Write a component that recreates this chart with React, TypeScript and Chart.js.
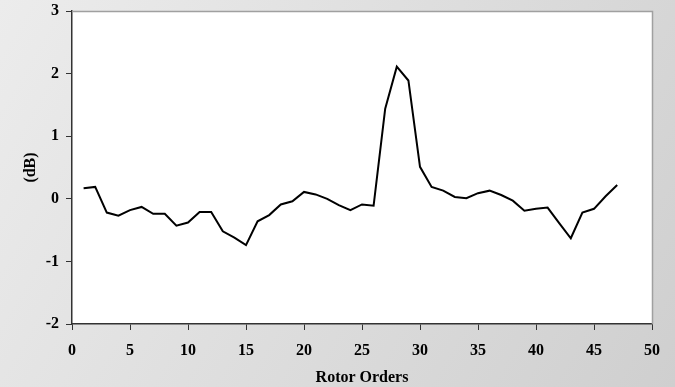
import React, { useEffect, useRef } from "react";
import { Chart, registerables } from "chart.js";

Chart.register(...registerables);

const orders = [1, 2, 3, 4, 5, 6, 7, 8, 9, 10, 11, 12, 13, 14, 15, 16, 17, 18, 19, 20, 21, 22, 23, 24, 25, 26, 27, 28, 29, 30, 31, 32, 33, 34, 35, 36, 37, 38, 39, 40, 41, 42, 43, 44, 45, 46, 47];
const dbValues = [0.17, 0.19, -0.22, -0.27, -0.18, -0.13, -0.24, -0.24, -0.43, -0.38, -0.21, -0.21, -0.52, -0.62, -0.74, -0.36, -0.26, -0.09, -0.04, 0.11, 0.07, 0.0, -0.1, -0.18, -0.09, -0.11, 1.44, 2.11, 1.89, 0.51, 0.19, 0.13, 0.03, 0.01, 0.09, 0.13, 0.06, -0.03, -0.19, -0.16, -0.14, -0.39, -0.63, -0.22, -0.16, 0.04, 0.22];

const xTitle = "Rotor Orders";
const yTitle = "(dB)";
const xMin = 0, xMax = 50, xStep = 5;
const yMin = -2, yMax = 3, yStep = 1;

const FONT = "'Liberation Serif', 'Times New Roman', serif";

const bgPlugin = {
  id: "bgPlugin",
  beforeDraw(chart: any) {
    const { ctx, width, height, chartArea } = chart;
    ctx.save();
    const g = ctx.createLinearGradient(0, 0, width, height);
    g.addColorStop(0, "#ececec");
    g.addColorStop(1, "#cfcfcf");
    ctx.fillStyle = g;
    ctx.fillRect(0, 0, width, height);
    ctx.fillStyle = "#ffffff";
    ctx.fillRect(chartArea.left, chartArea.top, chartArea.right - chartArea.left, chartArea.bottom - chartArea.top);
    ctx.restore();
  },
  afterDatasetsDraw(chart: any) {
    const { ctx, chartArea } = chart;
    ctx.save();
    ctx.strokeStyle = "#a0a0a0";
    ctx.lineWidth = 1.5;
    ctx.beginPath();
    ctx.moveTo(chartArea.left, chartArea.top + 0.5);
    ctx.lineTo(chartArea.right + 0.5, chartArea.top + 0.5);
    ctx.lineTo(chartArea.right + 0.5, chartArea.bottom);
    ctx.stroke();
    ctx.restore();
  },
};

export default function App() {
  const ref = useRef<HTMLCanvasElement | null>(null);
  useEffect(() => {
    if (!ref.current) return;
    const chart = new Chart(ref.current, {
      type: "line",
      data: {
        datasets: [
          {
            data: orders.map((o, i) => ({ x: o, y: dbValues[i] })),
            borderColor: "#000000",
            borderWidth: 2,
            pointRadius: 0,
            tension: 0,
            fill: false,
          },
        ],
      },
      options: {
        animation: false,
        responsive: false,
        maintainAspectRatio: false,
        layout: { padding: { top: 11, right: 23, left: 0, bottom: 0 } },
        plugins: { legend: { display: false }, tooltip: { enabled: false } },
        scales: {
          x: {
            type: "linear",
            min: xMin,
            max: xMax,
            afterFit: (s: any) => { s.height = 63; s.paddingLeft = 0; s.paddingRight = 0; },
            ticks: { stepSize: xStep, color: "#000", padding: 11, font: { family: FONT, size: 16, weight: "bold" } },
            grid: { display: true, drawOnChartArea: false, drawTicks: true, tickLength: 6, color: "#333", lineWidth: 1 },
            border: { display: true, color: "#333", width: 1.5 },
            title: { display: true, text: xTitle, color: "#000", padding: { top: 0, bottom: 0 }, font: { family: FONT, size: 16, weight: "bold" } },
          },
          y: {
            type: "linear",
            min: yMin,
            max: yMax,
            afterFit: (s: any) => { s.width = 72; s.paddingTop = 0; s.paddingBottom = 0; },
            ticks: { stepSize: yStep, color: "#000", padding: 7, font: { family: FONT, size: 16, weight: "bold" } },
            grid: { display: true, drawOnChartArea: false, drawTicks: true, tickLength: 6, color: "#333", lineWidth: 1 },
            border: { display: true, color: "#333", width: 1.5 },
            title: { display: true, text: yTitle, color: "#000", padding: { top: 21, bottom: 0 }, font: { family: FONT, size: 16, weight: "bold" } },
          },
        },
      },
      plugins: [bgPlugin],
    });
    return () => chart.destroy();
  }, []);
  return (
    <div style={{ position: "fixed", left: 0, top: 0, width: 675, height: 387 }}>
      <canvas ref={ref} width={675} height={387} style={{ display: "block", width: 675, height: 387 }} />
    </div>
  );
}
